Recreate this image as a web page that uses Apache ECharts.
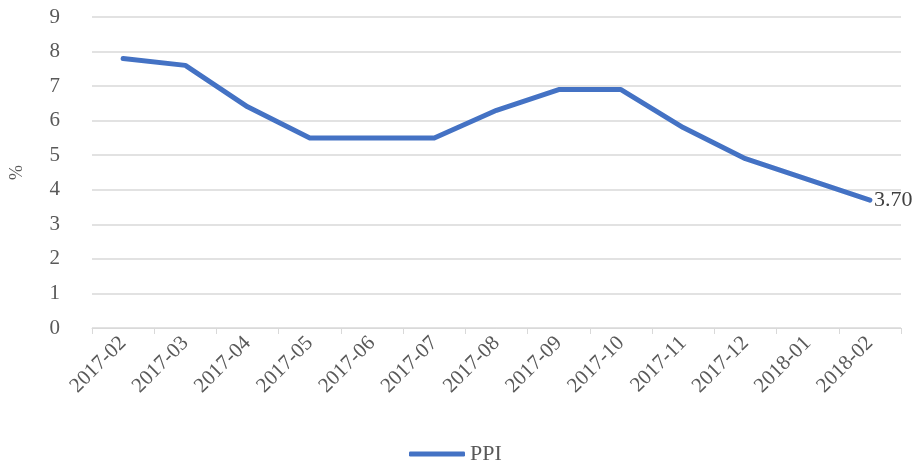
<!DOCTYPE html>
<html>
<head>
<meta charset="utf-8">
<script src="https://cdn.jsdelivr.net/npm/echarts@6/dist/echarts.min.js"></script>
<style>
  html, body { margin: 0; padding: 0; background: #fff; }
  #chart { width: 924px; height: 468px; }
</style>
</head>
<body>
<div id="chart"></div>
<script>
  const months = ['2017-02', '2017-03', '2017-04', '2017-05', '2017-06', '2017-07', '2017-08',
    '2017-09', '2017-10', '2017-11', '2017-12', '2018-01', '2018-02']
  const ppi = [7.8, 7.6, 6.4, 5.5, 5.5, 5.5, 6.3, 6.9, 6.9, 5.8, 4.9, 4.3, 3.7]

  const font = 'Liberation Serif'
  const textColor = '#595959'

  let myChart = echarts.init(document.getElementById('chart'))
  myChart.setOption({
    animation: false,
    grid: { left: 89, right: 23, top: 17, bottom: 140 },
    legend: {
      bottom: -2,
      left: 404,
      itemWidth: 56,
      itemHeight: 5,
      itemGap: 4,
      data: [{ name: 'PPI', icon: 'roundRect' }],
      textStyle: { fontFamily: font, fontSize: 22, color: textColor }
    },
    xAxis: {
      type: 'category',
      data: months,
      boundaryGap: true,
      axisLine: { lineStyle: { color: '#d9d9d9', width: 1 } },
      axisTick: { show: true, length: 6, lineStyle: { color: '#d9d9d9' } },
      axisLabel: {
        interval: 0,
        rotate: 45,
        margin: 12,
        fontFamily: font,
        fontSize: 21,
        color: textColor
      }
    },
    yAxis: {
      type: 'value',
      min: 0,
      max: 9,
      interval: 1,
      name: '%',
      nameLocation: 'middle',
      nameRotate: 90,
      nameGap: 66,
      nameTextStyle: { fontFamily: font, fontSize: 18, color: textColor },
      axisLine: { show: false },
      axisTick: { show: false },
      axisLabel: { margin: 32, fontFamily: font, fontSize: 21, color: textColor },
      splitLine: { lineStyle: { color: '#d9d9d9', width: 1.5 } }
    },
    series: [{
      name: 'PPI',
      type: 'line',
      data: ppi,
      symbol: 'none',
      lineStyle: { color: '#4472C4', width: 5, cap: 'round', join: 'round' },
      itemStyle: { color: '#4472C4' },
      label: { show: false },
      endLabel: {
        show: true,
        formatter: p => p.value.toFixed(2),
        distance: 4,
        fontFamily: font,
        fontSize: 22,
        color: '#404040'
      }
    }]
  })
</script>
</body>
</html>
